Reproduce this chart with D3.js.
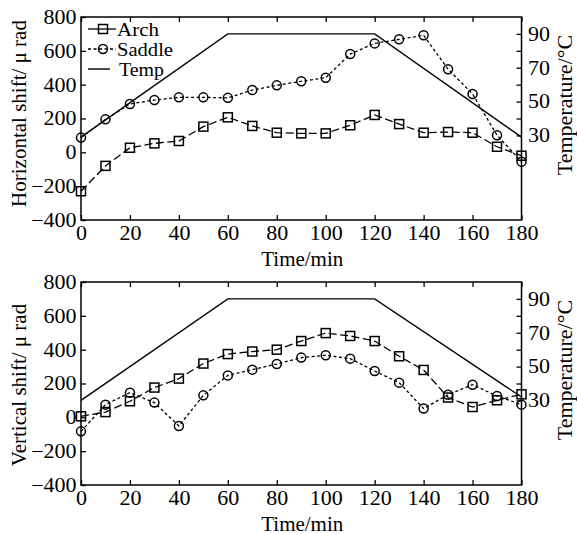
<!DOCTYPE html>
<html><head><meta charset="utf-8">
<script src="https://cdn.jsdelivr.net/npm/d3@7"></script>
<style>
body{margin:0;background:#fff}
svg{display:block}
text{font-family:"Liberation Serif","Times New Roman",serif;fill:#000}
</style>
</head><body><svg id="c" width="577" height="534"></svg>
<script>
const times = [0,10,20,30,40,50,60,70,80,90,100,110,120,130,140,150,160,170,180];
const hArch = [-230,-80,27,53,67,152,207,156,116,112,112,160,221,167,116,120,116,33,-20];
const hSaddle = [87,195,286,309,325,325,322,368,396,420,441,581,644,668,692,491,345,101,-55];
const vArch = [6,31,95,176,229,318,374,389,400,451,498,481,451,361,280,117,61,101,136];
const vSaddle = [-83,75,146,87,-51,130,248,282,315,353,367,347,274,205,52,134,193,126,75];
const tempTimes = [0,60,120,180];
const hTemp = [29,90,90,29];
const vTemp = [30,90,90,32];
const xTicks = [0,20,40,60,80,100,120,140,160,180];
const yTicks = [-400,-200,0,200,400,600,800];
const tTicks = [30,40,50,60,70,80,90];
const tLabels = [30,50,70,90];
const legendLabels = ["Arch","Saddle","Temp"];

const svg = d3.select("#c");
const L = 81, R = 521.5, H = 203;
const x = d3.scaleLinear().domain([0,180]).range([L,R]);
const SX = 1.1;

function panel(top, yLabel, arch, saddle, temp, leftCy, rightCy, legend){
  const y = d3.scaleLinear().domain([-400,800]).range([top+H, top]);
  const yT = d3.scaleLinear().domain([-20,100]).range([top+H, top]);
  const g = svg.append("g");

  const ax = g.append("g").attr("transform",`translate(0,${top+H})`)
    .call(d3.axisBottom(x).tickValues(xTicks).tickSize(-5).tickSizeOuter(0).tickPadding(6.5));
  g.append("g").attr("transform",`translate(0,${top})`)
    .call(d3.axisTop(x).tickValues(xTicks).tickSize(-5).tickSizeOuter(0).tickFormat(""));
  g.append("g").attr("transform",`translate(${L},0)`)
    .call(d3.axisLeft(y).tickValues(yTicks).tickSize(-5).tickSizeOuter(0).tickPadding(4));
  g.append("g").attr("transform",`translate(${R},0)`)
    .call(d3.axisRight(yT).tickValues(tTicks).tickSize(-5).tickSizeOuter(0).tickPadding(6)
      .tickFormat(d => tLabels.includes(d) ? d : ""));
  g.selectAll(".domain").remove();
  g.selectAll(".tick line").attr("stroke","#000").attr("stroke-width",1.3);
  g.selectAll(".tick text").attr("font-size",20).attr("font-family",null)
    .attr("transform",`scale(${SX},1)`);
  ax.selectAll(".tick text").attr("dy","0.68em");

  g.append("rect").attr("x",L).attr("y",top).attr("width",R-L).attr("height",H)
    .attr("fill","none").attr("stroke","#000").attr("stroke-width",1.5);

  const lt = d3.line().x((d,i)=>x(tempTimes[i])).y(d=>yT(d));
  g.append("path").attr("d",lt(temp)).attr("fill","none").attr("stroke","#000").attr("stroke-width",1.4);

  const ln = d3.line().x((d,i)=>x(times[i])).y(d=>y(d));
  g.append("path").attr("d",ln(saddle)).attr("fill","none").attr("stroke","#000")
    .attr("stroke-width",1.3).attr("stroke-dasharray","3,2.5");
  g.append("path").attr("d",ln(arch)).attr("fill","none").attr("stroke","#000")
    .attr("stroke-width",1.3).attr("stroke-dasharray","8,3.5");

  g.selectAll(".sq").data(arch).join("rect")
    .attr("x",(d,i)=>x(times[i])-4.5).attr("y",d=>y(d)-4.5)
    .attr("width",9).attr("height",9).attr("fill","none").attr("stroke","#000").attr("stroke-width",1.5);
  g.selectAll(".ci").data(saddle).join("circle")
    .attr("cx",(d,i)=>x(times[i])).attr("cy",d=>y(d)).attr("r",4.5)
    .attr("fill","none").attr("stroke","#000").attr("stroke-width",1.5);

  g.append("text").attr("x",(L+R)/2+1).attr("y",top+H+45.5).attr("text-anchor","middle")
    .attr("font-size",21).text("Time/min");
  g.append("text").attr("transform",`translate(26,${leftCy}) rotate(-90)`)
    .attr("text-anchor","middle").attr("font-size",21).text(yLabel);
  g.append("text").attr("transform",`translate(572,${rightCy}) rotate(-90)`)
    .attr("text-anchor","middle").attr("font-size",22).text("Temperature/\u00B0C");

  if(legend){
    const rows = [29,49,69];
    const widths = [42,56,45];
    const lg = g.append("g");
    lg.append("line").attr("x1",88).attr("x2",116).attr("y1",rows[0]).attr("y2",rows[0])
      .attr("stroke","#000").attr("stroke-width",1.3);
    lg.append("rect").attr("x",103-4.5).attr("y",rows[0]-4.5).attr("width",9).attr("height",9)
      .attr("fill","none").attr("stroke","#000").attr("stroke-width",1.5);
    lg.append("line").attr("x1",88).attr("x2",116).attr("y1",rows[1]).attr("y2",rows[1])
      .attr("stroke","#000").attr("stroke-width",1.3).attr("stroke-dasharray","3,2.5");
    lg.append("circle").attr("cx",103).attr("cy",rows[1]).attr("r",4.5)
      .attr("fill","none").attr("stroke","#000").attr("stroke-width",1.5);
    lg.append("line").attr("x1",88).attr("x2",110).attr("y1",rows[2]).attr("y2",rows[2])
      .attr("stroke","#000").attr("stroke-width",1.4);
    lg.selectAll("text").data(legendLabels).join("text")
      .attr("x",(d,i)=> i===2 ? 119 : 117).attr("y",(d,i)=>rows[i]+6.5)
      .attr("font-size",18).attr("textLength",(d,i)=>widths[i])
      .attr("lengthAdjust","spacingAndGlyphs").text(d=>d);
  }
}

panel(17, "Horizontal shift/ \u03BC rad", hArch, hSaddle, hTemp, 113.5, 105, true);
panel(282, "Vertical shift/ \u03BC rad", vArch, vSaddle, vTemp, 385, 370, false);
</script>
</body></html>
